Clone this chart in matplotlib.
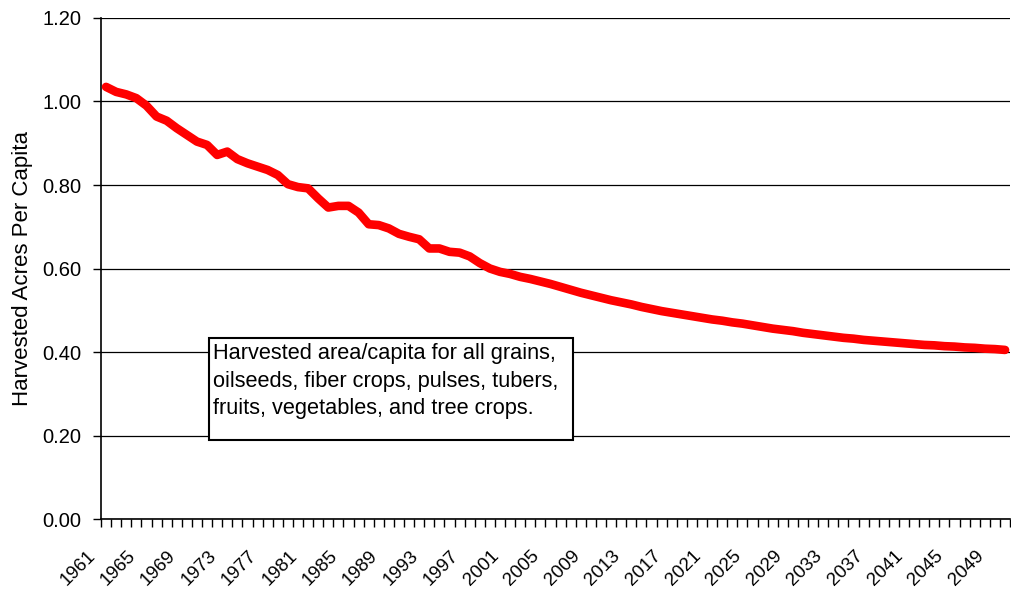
import numpy as np
import matplotlib.pyplot as plt
from matplotlib.patches import Rectangle
from matplotlib.transforms import ScaledTranslation

# Dados (área colhida por habitante, acres)
anos = list(range(1961, 2051))
acres_per_capita = [
    1.035, 1.023, 1.017, 1.008, 0.990, 0.964, 0.954, 0.936, 0.920, 0.904,  # 1961-1970
    0.896, 0.872, 0.880, 0.862, 0.852, 0.844, 0.836, 0.824, 0.802, 0.795,  # 1971-1980
    0.792, 0.768, 0.746, 0.750, 0.750, 0.734, 0.706, 0.704, 0.696, 0.683,  # 1981-1990
    0.676, 0.670, 0.648, 0.648, 0.640, 0.638, 0.629, 0.613, 0.600, 0.592,  # 1991-2000
    0.587, 0.580, 0.575, 0.569, 0.563, 0.556, 0.549, 0.542, 0.536, 0.530,  # 2001-2010
    0.524, 0.519, 0.514, 0.508, 0.503, 0.498, 0.494, 0.490, 0.486, 0.482,  # 2011-2020
    0.478, 0.475, 0.471, 0.468, 0.464, 0.460, 0.456, 0.453, 0.450, 0.446,  # 2021-2030
    0.443, 0.440, 0.437, 0.434, 0.432, 0.429, 0.427, 0.425, 0.423, 0.421,  # 2031-2040
    0.419, 0.417, 0.416, 0.414, 0.413, 0.411, 0.410, 0.408, 0.407, 0.405,  # 2041-2050
]
rotulos_anos = [str(a) for a in anos[::4]]
y_ticks = [0.0, 0.2, 0.4, 0.6, 0.8, 1.0, 1.2]
texto_caixa = ("Harvested area/capita for all grains,\n"
               "oilseeds, fiber crops, pulses, tubers,\n"
               "fruits, vegetables, and tree crops.")

plt.rcParams['font.family'] = ['Liberation Sans', 'DejaVu Sans']

fig = plt.figure(figsize=(10.11, 5.90), dpi=100)
ax = fig.add_axes([0.0999, 0.1203, 0.8992, 0.8492])

x = np.arange(len(anos))
ax.plot(x, acres_per_capita, color='#ff0000', linewidth=6.2,
        solid_capstyle='round', solid_joinstyle='round', zorder=3)

# eixo Y
ax.set_ylim(0, 1.2)
ax.set_yticks(y_ticks)
ax.set_yticklabels([f'{v:.2f}' for v in y_ticks], fontsize=14.5)
ax.yaxis.grid(True, color='black', linewidth=0.9)
ax.set_axisbelow(True)
ax.tick_params(axis='y', direction='out', length=6, width=1, pad=8)
ax.set_ylabel('Harvested Acres Per Capita', fontsize=16)
ax.yaxis.set_label_coords(-0.075, 0.5)

# eixo X estilo categorias (marcas entre as categorias)
ax.set_xlim(-0.5, len(anos) - 0.5)
ax.set_xticks(np.arange(-0.5, len(anos), 1.0))
ax.set_xticklabels([])
ax.tick_params(axis='x', which='major', direction='out', length=6, width=1)
ax.set_xticks(x[::4], minor=True)
ax.set_xticklabels(rotulos_anos, minor=True, fontsize=13.5, rotation=45,
                   ha='right', va='center', rotation_mode='anchor')
ax.tick_params(axis='x', which='minor', length=0, pad=24.5)
deslocamento = ScaledTranslation(-9.8 / 72, 0, fig.dpi_scale_trans)
for rotulo in ax.get_xticklabels(minor=True):
    rotulo.set_transform(rotulo.get_transform() + deslocamento)

for lado in ['top', 'right']:
    ax.spines[lado].set_visible(False)
for lado in ['left', 'bottom']:
    ax.spines[lado].set_color('black')
    ax.spines[lado].set_linewidth(1.2)

# caixa de texto
caixa = Rectangle((0.1188, 0.1577), 0.4005, 0.2036, transform=ax.transAxes,
                  facecolor='white', edgecolor='black', linewidth=1.5, zorder=4)
ax.add_patch(caixa)
ax.text(0.1235, 0.352, texto_caixa, transform=ax.transAxes, fontsize=15.7,
        va='top', ha='left', linespacing=1.43, zorder=5)

fig.savefig('out.png', dpi=100)
